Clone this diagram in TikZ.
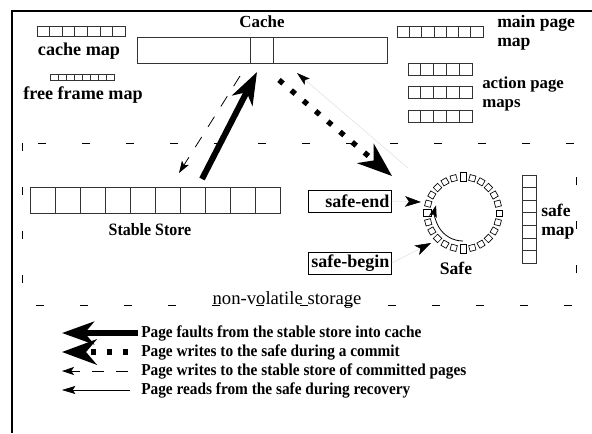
\documentclass[tikz,border=0pt]{standalone}
\usepackage{fontspec}
\setmainfont{Liberation Serif}
\newfontfamily\narrowserif{Liberation Serif}[FakeStretch=0.92]
\usetikzlibrary{arrows.meta,positioning,calc}
\tikzset{
  lbl/.style={font=\fontsize{13.2}{14}\selectfont\bfseries, inner sep=0pt, align=left},
  keytext/.style={font=\narrowserif\fontsize{12.5}{13}\selectfont\bfseries, inner sep=0pt, anchor=west},
  note/.style={font=\fontsize{14}{15}\selectfont, inner sep=0pt},
  cell/.style={draw=black!80, line width=0.6pt},
  tagbox/.style={draw, line width=0.7pt, font=\fontsize{13.5}{14}\selectfont\bfseries,
                 text width=59pt, align=right, inner sep=1.5pt, minimum height=16.5pt},
  ringcell/.style={draw, line width=0.5pt, minimum width=4.5pt, minimum height=4.5pt, inner sep=0pt},
  fault/.style={line width=4.5pt, -{Stealth[length=24pt,width=17pt,inset=7pt]}},
  commit/.style={line width=4pt, dash pattern=on 4pt off 8pt, -{Stealth[length=26pt,width=19pt,inset=8pt]}},
  flush/.style={line width=0.6pt, dash pattern=on 9pt off 9pt, -{Stealth[length=9pt,width=6pt,inset=2pt]}},
  recover/.style={line width=0.4pt, draw=black!12, -{Stealth[length=10pt,width=6pt,inset=2pt,color=black]}},
  pointer/.style={line width=0.4pt, draw=black!12, -{Stealth[length=12pt,width=8pt,inset=3pt,color=black]}},
}
\begin{document}
\begin{tikzpicture}[x=0.75pt,y=-0.75pt]
  \useasboundingbox (0,0) rectangle (592,433);
  % outer frame
  \draw[line width=0.8pt] (12,433) -- (12,11) -- (592,11);

  % cache with the slot being moved
  \node[cell, minimum width=187.5pt, minimum height=19.5pt] (cache) at (262,50) {};
  \node[cell, minimum width=17.25pt, minimum height=19.5pt] (slot) at (261.5,50) {};
  \node[lbl, font=\fontsize{12.7}{14}\selectfont\bfseries] (cachelbl) at (262,22) {Cache};

  % small maps
  \foreach \i in {0,...,6} \draw[cell] ({37+12.6*\i},26) rectangle ++(12.6,10);
  \node[lbl, font=\fontsize{13.6}{14}\selectfont\bfseries] (cmaplbl) at (79,51) {cache map};
  \foreach \i in {0,...,7} \draw[cell, line width=0.4pt] ({50+8*\i},74) rectangle ++(8,6);
  \node[lbl, font=\fontsize{13.6}{14}\selectfont\bfseries] (fmaplbl) at (83,95) {free frame map};
  \foreach \i in {0,...,6} \draw[cell] ({397+12.3*\i},26) rectangle ++(12.3,11);
  \node[lbl, anchor=north west] (mmaplbl) at (497,15) {main page\\map};
  \foreach \y in {63,86,110}
    \foreach \i in {0,...,4} \draw[cell] ({408+12.8*\i},\y) rectangle ++(12.8,12);
  \node[lbl, anchor=west, font=\fontsize{12.6}{14}\selectfont\bfseries] (amaplbl) at (482,94) {action page\\maps};

  % non-volatile storage
  \draw[line width=0.6pt, dash pattern=on 6pt off 27pt] (22,143) rectangle (576,305);
  \node[note] (nvlbl) at (287,300) {non-volatile storage};

  \foreach \i in {0,...,9} \draw[cell] ({30+25*\i},187) rectangle ++(25,26);
  \node[lbl, font=\narrowserif\fontsize{13}{14}\selectfont\bfseries] (storelbl) at (150,230) {Stable Store};

  \node[tagbox] (send) at (350,201) {safe-end};
  \node[tagbox] (sbegin) at (350,263) {safe-begin};

  % the safe: a ring of pages
  \coordinate (safe) at (463,213);
  \foreach \a in {0,15,...,345}
    \node[ringcell, rotate=-\a] (r\a) at ($(safe)+(\a:36)$) {};
  \node[ringcell, minimum width=4.5pt, minimum height=7pt, fill=white] (rtop) at ($(safe)+(270:36)$) {};
  \node[ringcell, minimum width=4.5pt, minimum height=7pt, fill=white] (rbot) at ($(safe)+(90:36)$) {};
  \node[ringcell, minimum width=6pt, minimum height=5.5pt, fill=white] (rleft) at ($(safe)+(180:36)$) {};
  \draw[line width=0.6pt, -{Stealth[length=9pt,width=6pt,inset=2pt]}]
    ($(safe)+(90:28)$) arc[start angle=90, end angle=196, radius=28];
  \node[lbl] (safelbl) at (456,268) {Safe};

  \foreach \i in {0,...,6} \draw[cell] (522,{175+12.6*\i}) rectangle ++(14,12.6);
  \node[lbl, anchor=west] (smaplbl) at (541,222) {safe\\map};

  % page movements
  \coordinate (faultfrom) at (202,179);
  \coordinate (faultto) at (257,72);
  \draw[fault] (faultfrom) -- (faultto);
  \coordinate (commitfrom) at (279,80);
  \coordinate (committo) at (392,176);
  \draw[commit] (commitfrom) -- (committo);
  \coordinate (flushfrom) at (240,76);
  \coordinate (flushto) at (179,173);
  \draw[flush] (flushfrom) -- (flushto);
  \coordinate (recfrom) at (408,168);
  \coordinate (recto) at (297,73);
  \draw[recover] (recfrom) -- (recto);
  \coordinate (endto) at (421,202);
  \coordinate (beginto) at (431,243);
  \draw[pointer] (send.east) -- (endto);
  \draw[pointer] (sbegin.east) -- (beginto);

  % legend
  \foreach \y/\s/\x/\t in {333/fault/138/Page faults from the stable store into cache,
                           352/commit/128/Page writes to the safe during a commit,
                           371/flush/128/Page writes to the stable store of committed pages,
                           390/recover/130/Page reads from the safe during recovery}{
    \coordinate (k\y) at (\x,\y);
    \coordinate (t\y) at (62,\y);
    \draw[\s, draw=black] (k\y) -- (t\y);
    \node[keytext] (l\y) at (141,\y) {\t};
  }
\end{tikzpicture}
\end{document}
